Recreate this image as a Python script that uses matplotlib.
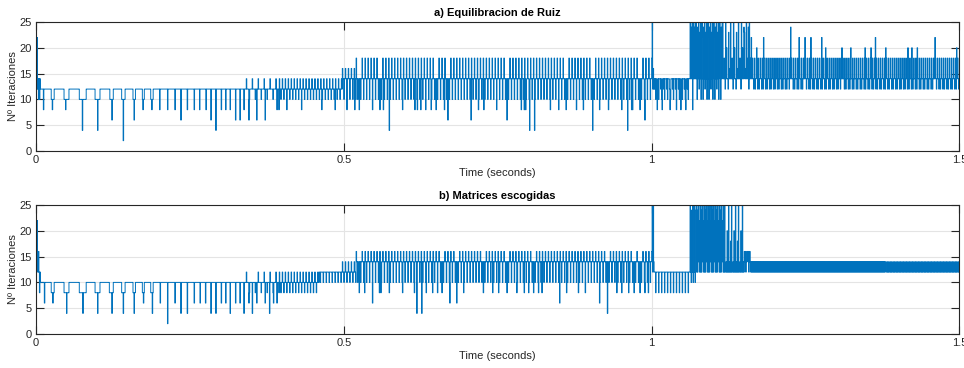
import numpy as np
import matplotlib
matplotlib.use("Agg")
import matplotlib.pyplot as plt

plt.rcParams["font.family"] = ["Liberation Sans", "DejaVu Sans"]
plt.rcParams["path.simplify"] = False   # keep every sub-pixel spike

BLUE = "#0072BD"
DARK = "#262626"
DT = 0.0008      # solver step of the logged signal
T_END = 1.5

# ---------- a) Equilibracion de Ruiz ----------
# regimes: start, end, repeating sequence of iteration counts
a_reg_t0 = [0.000, 0.0072, 0.341, 0.395, 0.497, 0.520, 1.0008, 1.0040, 1.062, 1.072, 1.115, 1.160]
a_reg_t1 = [0.0072, 0.341, 0.395, 0.497, 0.520, 1.0008, 1.0040, 1.062, 1.072, 1.115, 1.160, 1.5008]
a_reg_seq = [
    [25, 12, 22, 12, 14, 10, 14, 10, 14],
    [12],
    [14, 12, 12, 12, 12, 12, 10, 12, 12, 12, 12, 12],
    [14, 12, 12, 10, 12, 12],
    [16, 14, 14, 10, 14, 14],
    [18, 14, 14, 10, 14, 14],
    [25, 12, 16, 12],
    [14, 12, 14, 10, 14, 14],
    [25, 14, 24, 14, 25, 14],
    [25, 14, 10, 24, 14, 25, 12, 23, 14, 25, 10, 22],
    [25, 14, 14, 18, 14, 12, 25, 14, 20, 14, 14, 12, 23, 14, 16, 14],
    [18, 14, 12, 14, 18, 14, 14, 12],
]
a_flat_t0 = [0.0244, 0.0455, 0.0704, 0.0958, 0.1200, 0.1390, 0.1570, 0.1727, 0.1860]
a_flat_t1 = [0.0292, 0.0536, 0.0812, 0.1040, 0.1256, 0.1446, 0.1610, 0.1760, 0.1900]
a_flat_v = [10, 10, 10, 10, 10, 10, 10, 10, 10]
a_dip_t = [0.0119, 0.0265, 0.0480, 0.0750, 0.1000, 0.1230, 0.1420, 0.1590, 0.1740, 0.1880,
           0.2010, 0.2140, 0.2260, 0.2355, 0.2460, 0.2570, 0.2660, 0.2760, 0.2840, 0.2920,
           0.3005, 0.3080, 0.3150, 0.3240, 0.3310, 0.3380, 0.3455, 0.3585, 0.3720, 0.3910,
           0.3946, 0.4075, 0.4315, 0.4640, 0.4857, 0.5046, 0.5180, 0.5250, 0.5460, 0.5580,
           0.5640, 0.5739, 0.5956, 0.6150, 0.6190, 0.6250, 0.6330, 0.6420, 0.6500, 0.6630,
           0.6687, 0.7065, 0.7185, 0.7270, 0.7480, 0.7645, 0.7880, 0.7925, 0.7950, 0.8013,
           0.8094, 0.8350, 0.8490, 0.8610, 0.8780, 0.8890, 0.9040, 0.9150, 0.9300, 0.9510,
           0.9610, 0.9675, 0.9692, 0.9810, 0.9890, 1.0090, 1.0170, 1.0300, 1.0400, 1.0476,
           1.0553, 1.0666,
           1.1500, 1.1565, 1.1613, 1.1706, 1.1813, 1.2258, 1.2393, 1.2490, 1.2588, 1.2762,
           1.2827, 1.3087, 1.3233, 1.3465, 1.3563, 1.3633, 1.3802, 1.4159, 1.4224, 1.4315,
           1.4602, 1.4955]
a_dip_v = [8, 8, 8, 4, 4, 6, 2, 6, 8, 8,
           8, 8, 8, 6, 8, 8, 8, 8, 6, 4,
           8, 8, 8, 6, 6, 8, 6, 6, 6, 8,
           8, 8, 8, 8, 8, 8, 8, 8, 8, 8,
           8, 4, 8, 8, 8, 8, 8, 8, 8, 8,
           6, 6, 8, 8, 8, 6, 8, 8, 8, 4,
           4, 8, 8, 8, 8, 8, 4, 8, 8, 8,
           4, 8, 8, 8, 6, 8, 8, 8, 8, 8,
           8, 8,
           24, 24, 22, 20, 22, 24, 22, 22, 22, 22,
           20, 20, 20, 20, 20, 22, 20, 20, 20, 20,
           22, 20]

# ---------- b) Matrices escogidas ----------
b_reg_t0 = [0.000, 0.0072, 0.341, 0.395, 0.460, 0.497, 0.520, 1.0008, 1.0040, 1.062, 1.072, 1.118, 1.150, 1.160, 1.380]
b_reg_t1 = [0.0072, 0.341, 0.395, 0.460, 0.497, 0.520, 1.0008, 1.0040, 1.062, 1.072, 1.118, 1.150, 1.160, 1.380, 1.5008]
b_reg_seq = [
    [25, 12, 22, 16, 12, 16, 12, 8, 12],
    [10],
    [12, 10, 10, 10, 10, 10, 8, 10, 10, 10, 10, 10],
    [12, 10, 10, 8, 10, 10],
    [12, 12, 10, 12, 12, 12],
    [14, 12, 12, 10, 12, 12],
    [16, 14, 14, 10, 14, 14],
    [25, 12, 25, 14],
    [12, 12, 12, 8, 12, 12],
    [25, 12, 10, 24, 12, 25, 10, 12],
    [25, 12, 24, 12, 25, 14, 22, 12],
    [25, 12, 12, 14, 12, 20, 12, 12, 25, 12, 14, 12, 18, 12],
    [16, 14, 16, 12, 14, 16],
    [14, 12],
    [14, 12, 12],
]
b_flat_t0 = [0.0244, 0.0455, 0.0704, 0.0958, 0.1190, 0.1390, 0.1570, 0.1727, 0.1860]
b_flat_t1 = [0.0292, 0.0536, 0.0812, 0.1040, 0.1256, 0.1446, 0.1610, 0.1760, 0.1900]
b_flat_v = [8, 8, 8, 8, 8, 8, 8, 8, 8]
b_dip_t = [0.0135, 0.0271, 0.0498, 0.0758, 0.1001, 0.1229, 0.1418, 0.1590, 0.1743, 0.1886,
           0.2014, 0.2139, 0.2257, 0.2355, 0.2460, 0.2566, 0.2663, 0.2755, 0.2837, 0.2920,
           0.3005, 0.3080, 0.3150, 0.3240, 0.3310, 0.3380, 0.3455, 0.3510, 0.3585, 0.3720,
           0.3790, 0.3855, 0.3910,
           0.5252, 0.5333, 0.5468, 0.5577, 0.5604, 0.5739, 0.5956, 0.6145, 0.6183, 0.6265,
           0.6334, 0.6443, 0.6519, 0.6589, 0.6724, 0.6833, 0.6941, 0.7266, 0.7418, 0.7510,
           0.7645, 0.7807, 0.7926, 0.7997, 0.8078, 0.8159, 0.8213, 0.8502, 0.8620, 0.8810,
           0.8920, 0.9150, 0.9282, 0.9433, 0.9515, 0.9623, 0.9713, 0.9811, 0.9892, 0.9946]
b_dip_v = [6, 6, 4, 4, 4, 4, 4, 4, 6, 4,
           6, 2, 6, 4, 4, 6, 6, 6, 4, 4,
           6, 6, 4, 6, 6, 4, 6, 4, 6, 6,
           4, 6, 6,
           8, 8, 6, 8, 8, 8, 8, 8, 4, 4,
           8, 8, 8, 8, 6, 6, 8, 8, 8, 8,
           8, 8, 8, 8, 8, 8, 8, 6, 8, 8,
           8, 6, 4, 8, 8, 8, 8, 8, 8, 8]


def build(reg_t0, reg_t1, reg_seq, flat_t0, flat_t1, flat_v, dip_t, dip_v):
    t = np.arange(0.0, T_END + DT, DT)
    y = np.zeros_like(t)
    for t0, t1, seq in zip(reg_t0, reg_t1, reg_seq):
        idx = np.nonzero((t >= t0 - 1e-9) & (t < t1 - 1e-9))[0]
        y[idx] = np.resize(np.array(seq, dtype=float), idx.size)
    for t0, t1, v in zip(flat_t0, flat_t1, flat_v):
        y[(t >= t0) & (t < t1)] = v
    for td, v in zip(dip_t, dip_v):
        y[np.argmin(np.abs(t - td))] = v
    return t, y


def style(ax, title):
    ax.set_xlim(0, 1.5)
    ax.set_ylim(0, 25)
    ax.set_xticks([0, 0.5, 1, 1.5])
    ax.set_xticklabels(["0", "0.5", "1", "1.5"])
    ax.set_yticks(range(0, 26, 5))
    ax.grid(True, color="#e4e4e4", lw=0.8)
    ax.set_axisbelow(True)
    ax.tick_params(direction="in", length=6, width=0.8, top=True, right=True,
                   colors=DARK, labelsize=8, pad=3)
    for s in ax.spines.values():
        s.set_color(DARK)
        s.set_linewidth(0.8)
    ax.set_title(title, fontsize=8, fontweight="bold", pad=4, color="black")
    ax.set_xlabel("Time (seconds)", fontsize=8, labelpad=2, color=DARK)
    ax.set_ylabel("Nº Iteraciones", fontsize=8, labelpad=1, color=DARK)


fig = plt.figure(figsize=(9.64, 3.68), dpi=100)
ax_a = fig.add_axes([0.0373, 0.5897, 0.958, 0.3505])
ax_b = fig.add_axes([0.0373, 0.0924, 0.958, 0.3505])

t, y = build(a_reg_t0, a_reg_t1, a_reg_seq, a_flat_t0, a_flat_t1, a_flat_v, a_dip_t, a_dip_v)
ax_a.step(t, y, where="post", color=BLUE, lw=0.7)
style(ax_a, "a) Equilibracion de Ruiz")

t, y = build(b_reg_t0, b_reg_t1, b_reg_seq, b_flat_t0, b_flat_t1, b_flat_v, b_dip_t, b_dip_v)
ax_b.step(t, y, where="post", color=BLUE, lw=0.7)
style(ax_b, "b) Matrices escogidas")

fig.savefig("out.png", dpi=100)
